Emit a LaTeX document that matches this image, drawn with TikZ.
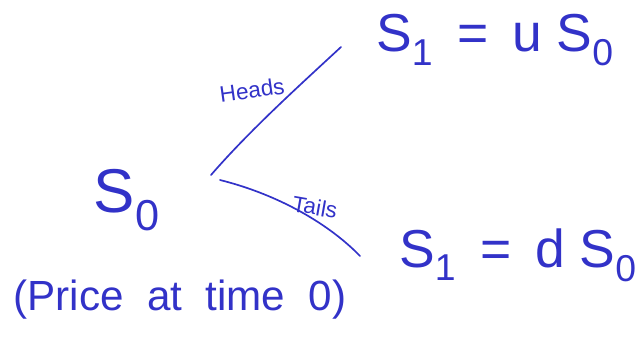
\documentclass[tikz,border=0pt]{standalone}
\usepackage{fontspec}
\setmainfont{Liberation Sans}
\definecolor{inkblue}{RGB}{50,50,200}
\tikzset{
  ink/.style={text=inkblue,inner sep=0pt},
  branch/.style={draw=inkblue,line width=1.2pt,line cap=round}
}
\begin{document}
\begin{tikzpicture}[x=0.025cm,y=-0.025cm]
  \useasboundingbox (0,0) rectangle (642,359);
  % root and its label
  \node[ink,font=\fontsize{44}{48}\selectfont] (root) at (127,200) {S\textsubscript{0}};
  \node[ink,font=\fontsize{30}{36}\selectfont] (price) at (180,300) {(Price \ at \ time \ 0)};
  % the two branches
  \coordinate (fork) at (211,175);
  \coordinate (forkb) at (220,180);
  \coordinate (up) at (341,47);
  \coordinate (down) at (360,256);
  \draw[branch] (fork) .. controls (250,130) and (300,85) .. (up);
  \draw[branch] (forkb) .. controls (280,195) and (330,225) .. (down);
  \node[ink,font=\fontsize{16}{18}\selectfont,rotate=8] (heads) at (252,90) {Heads};
  \node[ink,font=\fontsize{16}{18}\selectfont,rotate=-10] (tails) at (315,207) {Tails};
  % outcomes
  \node[ink,font=\fontsize{38}{44}\selectfont] (upper) at (495,40) {S\textsubscript{1} \,= \,u S\textsubscript{0}};
  \node[ink,font=\fontsize{38}{44}\selectfont] (lower) at (518,255) {S\textsubscript{1} \,= \,d S\textsubscript{0}};
\end{tikzpicture}
\end{document}
